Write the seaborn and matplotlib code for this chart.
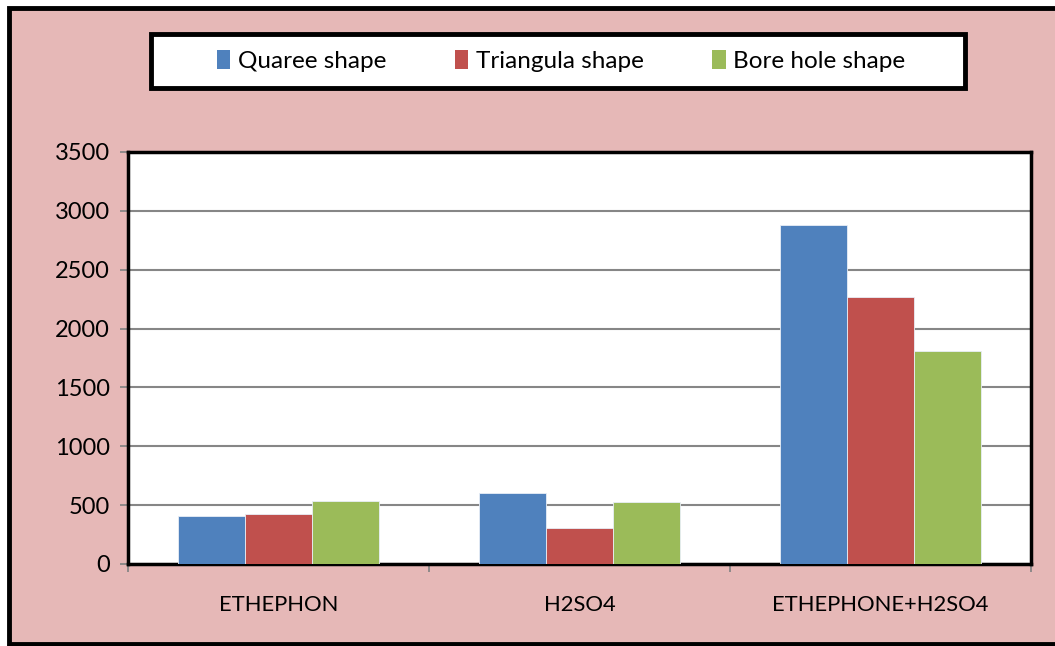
import matplotlib
matplotlib.use("Agg")
import matplotlib.pyplot as plt
from matplotlib.patches import Rectangle
import seaborn as sns
import pandas as pd

# Data
treatments = ["ETHEPHON", "H2SO4", "ETHEPHONE+H2SO4"]
shapes = ["Quaree shape", "Triangula shape", "Bore hole shape"]
quaree = [406, 605, 2880]
triangula = [423, 308, 2270]
bore_hole = [534, 528, 1810]
y_ticks = [0, 500, 1000, 1500, 2000, 2500, 3000, 3500]

colors = ["#4F81BD", "#C0504D", "#9BBB59"]
pink = "#E6B8B7"

rows = []
for shape, vals in zip(shapes, [quaree, triangula, bore_hole]):
    for t, v in zip(treatments, vals):
        rows.append({"Treatment": t, "Shape": shape, "Value": v})
df = pd.DataFrame(rows)

sns.set_theme(style="white")
plt.rcParams["font.family"] = ["Lato", "DejaVu Sans"]
plt.rcParams["text.color"] = "black"
plt.rcParams["xtick.labelcolor"] = "black"
plt.rcParams["ytick.labelcolor"] = "black"

W, H = 1055, 646
fig = plt.figure(figsize=(W / 100, H / 100), dpi=100, facecolor="white")

# pink chart area with black border
fig.patches.append(Rectangle((9 / W, 1 - 644 / H), 1.2, (644 - 8) / H,
                             transform=fig.transFigure, facecolor=pink,
                             edgecolor="black", linewidth=3.5, zorder=0))

ax = fig.add_axes([128 / W, 1 - 564 / H, (1031 - 128) / W, (564 - 152) / H])
ax.set_zorder(2)
ax.set_facecolor("white")

sns.barplot(data=df, x="Treatment", y="Value", hue="Shape", order=treatments,
            hue_order=shapes, palette=colors, saturation=1, width=0.67,
            edgecolor="#E8EEF7", linewidth=0.6, ax=ax, zorder=3)

ax.set_ylim(0, 3500)
ax.set_xlim(-0.5, 2.5)
ax.set_yticks(y_ticks)
ax.set_yticklabels([str(v) for v in y_ticks], fontsize=17)
ax.yaxis.grid(True, color="#868686", linewidth=1.5, zorder=0)
ax.set_axisbelow(True)

ax.set_xticks(range(len(treatments)))
ax.set_xticklabels(treatments, fontsize=15.8)
ax.tick_params(axis="x", which="major", length=0, pad=22)
ax.set_xticks([-0.5, 0.5, 1.5, 2.5], minor=True)
ax.tick_params(axis="x", which="minor", length=6, width=1.3, color="#868686",
               direction="out", bottom=True)
ax.tick_params(axis="y", length=6, width=1.3, color="#868686", direction="out",
               pad=7, left=True)
ax.set_xlabel("")
ax.set_ylabel("")

for side in ["top", "right", "bottom", "left"]:
    ax.spines[side].set_visible(True)
    ax.spines[side].set_color("black")
    ax.spines[side].set_linewidth(2.5)

# legend box across the top
ax.get_legend().remove()
fig.patches.append(Rectangle((151 / W, 1 - 88 / H), (965 - 151) / W, (88 - 34) / H,
                             transform=fig.transFigure, facecolor="white",
                             edgecolor="black", linewidth=3.5, zorder=1))
handles = [Rectangle((0, 0), 1, 1, facecolor=c, edgecolor="none") for c in colors]
leg = fig.legend(handles, shapes, loc="center", ncol=3,
                 bbox_to_anchor=(561 / W, 1 - 61 / H),
                 fontsize=17.5, frameon=False, handlelength=0.55,
                 handleheight=0.85, handletextpad=0.3, columnspacing=2.83)
leg.set_zorder(5)

fig.savefig("out.png", dpi=100, facecolor=fig.get_facecolor())
